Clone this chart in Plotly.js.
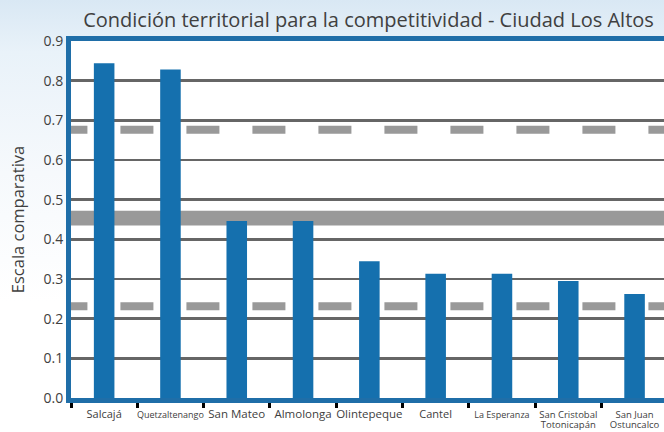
<!DOCTYPE html>
<html>
<head>
<meta charset="utf-8">
<script src="https://cdn.plot.ly/plotly-3.0.1.min.js"></script>
<style>
html,body{margin:0;padding:0;overflow:hidden;}
body{width:664px;height:432px;background:linear-gradient(180deg,#d9e8f4 0%,#e9f2f9 12%,#f6f9fc 40%,#ffffff 70%);}
#chart{width:664px;height:432px;}
</style>
</head>
<body>
<div id="chart"></div>
<script>
const categories = ["Salcajá","Quetzaltenango","San Mateo","Almolonga","Olintepeque","Cantel","La Esperanza","San Cristobal Totonicapán","San Juan Ostuncalco"];
const tickLabels = [
  '<span style="font-size:11px">Salcajá</span>',
  '<span style="font-size:9px">Quetzaltenango</span>',
  '<span style="font-size:11.5px">San Mateo</span>',
  '<span style="font-size:11.5px">Almolonga</span>',
  '<span style="font-size:11.5px">Olintepeque</span>',
  '<span style="font-size:11px">Cantel</span>',
  '<span style="font-size:9px">La Esperanza</span>',
  '<span style="font-size:9.5px">San Cristobal</span><br><span style="font-size:9.5px">Totonicapán</span>',
  '<span style="font-size:9.5px">San Juan</span><br><span style="font-size:9.5px">Ostuncalco</span>'
];
const values = [0.844, 0.828, 0.446, 0.446, 0.345, 0.313, 0.313, 0.295, 0.262];
const upperRef = 0.676;
const bandLow = 0.435, bandHigh = 0.472;
const lowerRef = 0.231;

const trace = {
  type: 'bar', x: categories, y: values,
  marker: {color: '#1570ae'}, width: 0.31, hoverinfo: 'x+y'
};

function dashed(y){
  return {type:'line', xref:'x', yref:'y', x0:-0.75, x1:10, y0:y, y1:y,
    line:{color:'#999999', width:8, dash:'33px,33px'}, layer:'between'};
}

const layout = {
  width: 664, height: 432,
  margin: {l: 71, r: 0, t: 41, b: 34},
  paper_bgcolor: 'rgba(0,0,0,0)',
  plot_bgcolor: '#ffffff',
  showlegend: false,
  font: {family: '"Open Sans", "Noto Sans", sans-serif', color: '#404040'},
  title: {text: 'Condición territorial para la competitividad - Ciudad Los Altos',
    font: {size: 20, color: '#404040'}, x: 0.555, xanchor: 'center', xref: 'container',
    y: 0.953, yref: 'container', yanchor: 'middle'},
  xaxis: {
    type: 'category', range: [-0.5, 8.444], tickvals: categories, ticktext: tickLabels,
    tickangle: 0, automargin: false, ticklabelstandoff: 5,
    tickson: 'boundaries', ticks: 'outside', ticklen: 5, tickwidth: 3, tickcolor: '#000',
    showline: true, linecolor: '#1f6ea8', linewidth: 5, mirror: true,
    showgrid: false, tickfont: {size: 8, color: '#404040'}, fixedrange: true
  },
  yaxis: {
    range: [0, 0.9], dtick: 0.1, tickformat: '.1f', automargin: false,
    showline: true, linecolor: '#1f6ea8', linewidth: 5, mirror: false,
    gridcolor: '#666666', gridwidth: 2.5, zeroline: false, ticks: '',
    tickfont: {size: 14, color: '#404040'},
    title: {text: 'Escala comparativa', font: {size: 16.5, color: '#404040'}, standoff: 16},
    fixedrange: true
  },
  shapes: [
    dashed(upperRef),
    dashed(lowerRef),
    {type:'rect', xref:'paper', yref:'y', x0:0, x1:1, y0:bandLow, y1:bandHigh,
     fillcolor:'#999999', line:{width:0}, layer:'between'}
  ]
};

Plotly.newPlot('chart', [trace], layout, {displayModeBar: false, staticPlot: true});
</script>
</body>
</html>
